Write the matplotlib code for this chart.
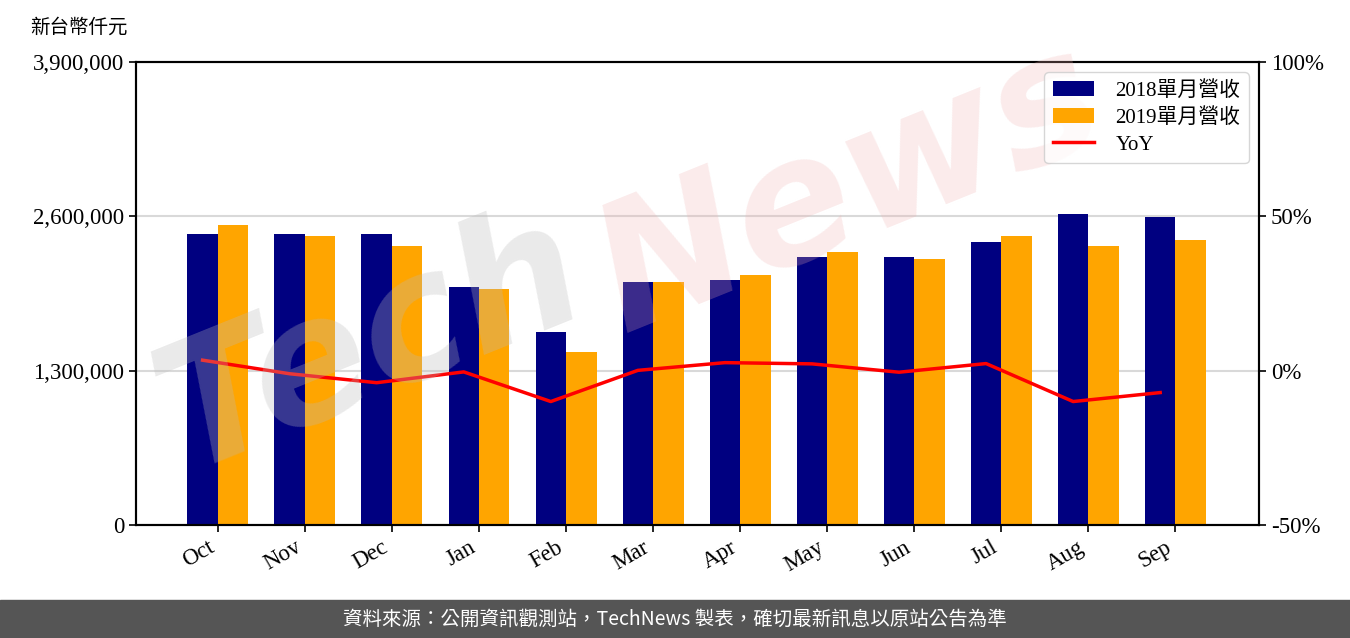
import matplotlib.pyplot as plt
import numpy as np

months = ["Oct", "Nov", "Dec", "Jan", "Feb", "Mar", "Apr", "May", "Jun", "Jul", "Aug", "Sep"]
rev2018 = [2451000, 2451000, 2451000, 2005000, 1626000, 2047000,
           2064000, 2257000, 2257000, 2384000, 2620000, 2594000]
rev2019 = [2527000, 2434000, 2350000, 1988000, 1457000, 2047000,
           2106000, 2300000, 2241000, 2434000, 2350000, 2401000]
yoy = [3.4, -1.0, -3.9, -0.4, -10.0, 0.1, 2.6, 2.2, -0.5, 2.3, -10.0, -7.1]
left_ticks = [0, 1300000, 2600000, 3900000]
right_ticks = [-50, 0, 50, 100]

plt.rcParams['font.family'] = ['Liberation Serif', 'Noto Sans CJK TC', 'DejaVu Sans']
fs = 16.5

fig = plt.figure(figsize=(13.5, 6.38), dpi=100)
ax = fig.add_axes([136/1350, 1-525/638, (1259-136)/1350, (525-62)/638])
x = np.arange(len(months))
w = 0.35

b1 = ax.bar(x - w/2, rev2018, w, color="#000080", label="2018單月營收", zorder=2)
b2 = ax.bar(x + w/2, rev2019, w, color="#FFA500", label="2019單月營收", zorder=2)
ax.set_ylim(0, 3900000)
ax.set_yticks(left_ticks)
ax.set_yticklabels([f"{v:,}" for v in left_ticks], fontsize=fs)
ax.yaxis.grid(True, color="#d9d9d9", linewidth=1.5, zorder=0)
ax.set_axisbelow(True)
ax.set_xlim(-0.94, 11.96)
ax.set_xticks(x)
ax.set_xticklabels(months, rotation=30, ha="right", fontsize=fs)
for s in ax.spines.values():
    s.set_linewidth(1.5)
ax.tick_params(width=1.2, length=5)

ax2 = ax.twinx()
l1, = ax2.plot(x - w/2, yoy, color="red", linewidth=2.5, label="YoY", zorder=3)
ax2.set_ylim(-50, 100)
ax2.set_yticks(right_ticks)
ax2.set_yticklabels([f"{v}%" for v in right_ticks], fontsize=fs)
ax2.tick_params(width=1.2, length=5)
for s in ax2.spines.values():
    s.set_linewidth(1.5)

# watermark, under the legend
ax2.text(0.0, 0.12, "Tech", transform=ax2.transAxes, fontsize=125, rotation=22,
         color="#bbbbbb", alpha=0.3, family="DejaVu Sans", style="italic",
         fontweight="bold", zorder=4, clip_on=False)
ax2.text(0.39, 0.42, "News", transform=ax2.transAxes, fontsize=125, rotation=22,
         color="#f0b0b0", alpha=0.25, family="DejaVu Sans", style="italic",
         fontweight="bold", zorder=4, clip_on=False)

leg = ax2.legend([b1, b2, l1], ["2018單月營收", "2019單月營收", "YoY"],
                 loc="upper right", fontsize=15, frameon=True, handlelength=2.0,
                 labelspacing=0.35, borderaxespad=0.5, handletextpad=1.0)
leg.get_frame().set_edgecolor("#cccccc")
leg.set_zorder(6)

fig.text(30/1350, 1-27/638, "新台幣仟元", fontsize=14, va="center", ha="left")

fig.patches.append(plt.Rectangle((0, 0), 1, 38/638, transform=fig.transFigure,
                                 color="#555555", zorder=0))
fig.text(0.5, 19/638, "資料來源：公開資訊觀測站，TechNews 製表，確切最新訊息以原站公告為準",
         fontsize=14, color="white", ha="center", va="center",
         family=["Noto Sans CJK TC", "DejaVu Sans"])

fig.savefig("out.png", dpi=100)
